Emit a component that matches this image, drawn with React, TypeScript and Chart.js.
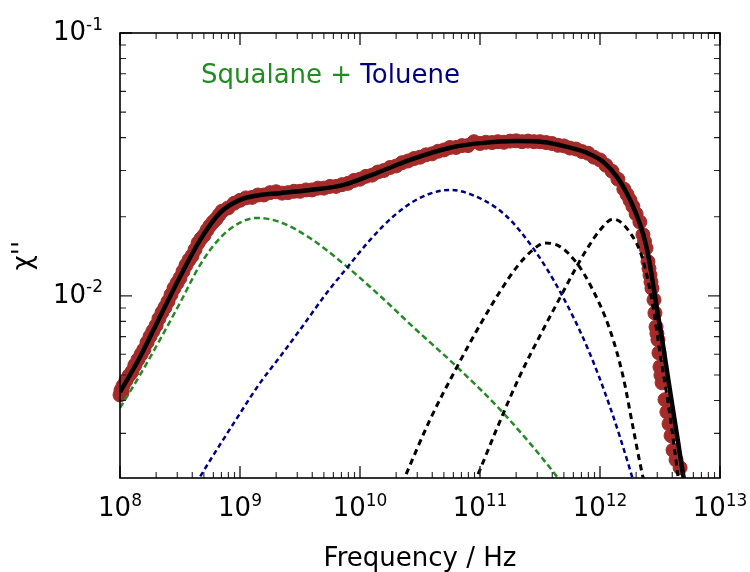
import React, { useEffect, useRef } from 'react';
import { Chart, registerables } from 'chart.js';

Chart.register(...registerables);

// ---------- axis ranges & ticks ----------
const X_MIN = 1e8;
const X_MAX = 1e13;
const Y_MIN = 2.03e-3;
const Y_MAX = 1e-1;
const xTickExponents = [8, 9, 10, 11, 12, 13];
const yTickExponents = [-2, -1];

// ---------- measured spectrum (red circles) ----------
const measuredFreq = [
  1.00e8, 1.02e8, 1.04e8, 1.06e8, 1.12e8, 1.19e8, 1.26e8, 1.33e8, 1.41e8, 1.50e8,
  1.58e8, 1.68e8, 1.78e8, 1.88e8, 2.00e8, 2.11e8, 2.24e8, 2.37e8, 2.51e8, 2.66e8,
  2.82e8, 2.99e8, 3.16e8, 3.35e8, 3.55e8, 3.76e8, 3.98e8, 4.22e8, 4.47e8, 4.73e8,
  5.01e8, 5.31e8, 5.62e8, 5.96e8, 6.31e8, 6.68e8, 7.08e8, 7.94e8, 8.91e8,
  1.00e9, 1.12e9, 1.26e9, 1.41e9, 1.58e9, 1.78e9, 2.00e9, 2.24e9, 2.51e9, 2.82e9,
  3.16e9, 3.55e9, 3.98e9, 4.47e9, 5.01e9, 5.62e9, 6.31e9, 7.08e9, 7.94e9, 8.91e9,
  1.00e10, 1.12e10, 1.26e10, 1.41e10, 1.58e10, 1.78e10, 2.00e10, 2.24e10, 2.51e10, 2.82e10,
  3.16e10, 3.55e10, 3.98e10, 4.47e10, 5.01e10, 5.62e10, 6.31e10, 7.08e10, 7.94e10, 8.91e10,
  1.00e11, 1.12e11, 1.26e11, 1.41e11, 1.58e11, 1.78e11, 2.00e11, 2.24e11, 2.51e11, 2.82e11,
  3.16e11, 3.55e11, 3.98e11, 4.47e11, 5.01e11, 5.62e11, 6.31e11, 7.08e11, 7.94e11, 8.91e11,
  1.00e12, 1.12e12, 1.26e12, 1.41e12, 1.58e12, 1.68e12, 1.78e12, 1.88e12, 2.00e12,
  2.15e12, 2.28e12, 2.35e12, 2.42e12, 2.51e12, 2.56e12, 2.61e12, 2.66e12, 2.71e12, 2.82e12,
  2.87e12, 2.93e12, 2.98e12, 3.04e12, 3.10e12, 3.16e12, 3.22e12, 3.29e12, 3.48e12, 3.61e12,
  3.76e12, 3.91e12, 4.06e12, 4.30e12, 4.65e12,
];
const measuredChi = [
  4.20e-3, 4.38e-3, 4.30e-3, 4.55e-3, 4.76e-3, 4.98e-3, 5.15e-3, 5.45e-3, 5.72e-3, 6.00e-3,
  6.25e-3, 6.65e-3, 7.02e-3, 7.35e-3, 7.72e-3, 8.20e-3, 8.66e-3, 9.05e-3, 9.52e-3, 1.01e-2,
  1.07e-2, 1.12e-2, 1.17e-2, 1.24e-2, 1.31e-2, 1.37e-2, 1.42e-2, 1.50e-2, 1.59e-2, 1.65e-2,
  1.70e-2, 1.78e-2, 1.85e-2, 1.91e-2, 1.96e-2, 2.03e-2, 2.10e-2, 2.16e-2, 2.25e-2,
  2.31e-2, 2.36e-2, 2.37e-2, 2.42e-2, 2.42e-2, 2.47e-2, 2.49e-2, 2.46e-2, 2.47e-2, 2.50e-2,
  2.50e-2, 2.53e-2, 2.53e-2, 2.57e-2, 2.57e-2, 2.61e-2, 2.61e-2, 2.65e-2, 2.68e-2, 2.75e-2,
  2.78e-2, 2.85e-2, 2.88e-2, 2.96e-2, 3.00e-2, 3.08e-2, 3.12e-2, 3.21e-2, 3.26e-2, 3.33e-2,
  3.37e-2, 3.44e-2, 3.47e-2, 3.55e-2, 3.59e-2, 3.67e-2, 3.67e-2, 3.73e-2, 3.73e-2, 3.86e-2,
  3.80e-2, 3.84e-2, 3.83e-2, 3.86e-2, 3.84e-2, 3.88e-2, 3.89e-2, 3.86e-2, 3.88e-2, 3.86e-2,
  3.86e-2, 3.83e-2, 3.80e-2, 3.74e-2, 3.72e-2, 3.65e-2, 3.62e-2, 3.54e-2, 3.49e-2, 3.37e-2,
  3.29e-2, 3.14e-2, 2.98e-2, 2.78e-2, 2.55e-2, 2.43e-2, 2.31e-2, 2.19e-2, 2.05e-2,
  1.91e-2, 1.71e-2, 1.61e-2, 1.52e-2, 1.35e-2, 1.27e-2, 1.20e-2, 1.13e-2, 1.07e-2, 9.66e-3,
  8.61e-3, 7.62e-3, 7.20e-3, 6.81e-3, 6.07e-3, 5.37e-3, 5.00e-3, 4.67e-3, 4.03e-3, 3.62e-3,
  3.26e-3, 2.94e-3, 2.59e-3, 2.38e-3, 2.22e-3,
];

// ---------- total fit (black solid) ----------
const fitFreq = [
  1.00e8, 1.47e8, 2.15e8, 3.16e8, 4.64e8, 6.81e8, 1.00e9, 1.47e9, 2.15e9, 3.83e9,
  7.21e9, 1.39e10, 2.61e10, 5.62e10, 1.06e11, 2.03e11, 3.35e11, 5.31e11, 7.80e11, 1.06e12,
  1.39e12, 1.78e12, 2.15e12, 2.42e12, 2.61e12, 2.82e12, 3.04e12, 3.35e12, 3.69e12, 4.06e12,
  4.47e12, 4.92e12, 5.10e12,
];
const fitChi = [
  4.31e-3, 5.86e-3, 8.32e-3, 1.18e-2, 1.63e-2, 2.07e-2, 2.32e-2, 2.42e-2, 2.46e-2, 2.53e-2,
  2.64e-2, 2.94e-2, 3.29e-2, 3.66e-2, 3.82e-2, 3.88e-2, 3.85e-2, 3.69e-2, 3.50e-2, 3.24e-2,
  2.83e-2, 2.32e-2, 1.88e-2, 1.56e-2, 1.31e-2, 1.05e-2, 8.47e-3, 6.52e-3, 4.88e-3, 3.69e-3,
  2.79e-3, 2.10e-3, 1.93e-3,
];

// ---------- squalane component (green dashed) ----------
const squalaneFreq = [
  1.00e8, 1.47e8, 2.15e8, 3.16e8, 4.64e8, 6.81e8, 1.00e9, 1.39e9, 2.15e9, 3.83e9,
  7.21e9, 1.47e10, 2.77e10, 6.43e10, 1.56e11, 4.39e11, 4.82e11,
];
const squalaneChi = [
  3.75e-3, 5.01e-3, 6.81e-3, 9.40e-3, 1.31e-2, 1.66e-2, 1.90e-2, 1.98e-2, 1.91e-2, 1.66e-2,
  1.33e-2, 1.00e-2, 7.62e-3, 5.37e-3, 3.59e-3, 2.05e-3, 1.93e-3,
];

// ---------- toluene component (navy dashed) ----------
const tolueneFreq = [
  4.30e8, 4.64e8, 9.44e8, 1.47e9, 2.15e9, 3.16e9, 5.31e9, 7.80e9, 1.21e10, 1.88e10,
  3.16e10, 5.62e10, 1.06e11, 1.68e11, 2.77e11, 4.64e11, 7.80e11, 1.21e12, 1.78e12, 1.92e12,
];
const tolueneChi = [
  1.93e-3, 2.05e-3, 3.43e-3, 4.67e-3, 5.86e-3, 7.43e-3, 1.03e-2, 1.28e-2, 1.63e-2, 2.00e-2,
  2.36e-2, 2.53e-2, 2.32e-2, 2.00e-2, 1.52e-2, 1.04e-2, 6.40e-3, 3.79e-3, 2.18e-3, 1.93e-3,
];

// ---------- fast process 1 (black dotted) ----------
const fast1Freq = [
  2.24e10, 2.37e10, 3.83e10, 6.43e10, 1.00e11, 1.47e11, 2.03e11, 2.77e11, 3.48e11, 4.64e11,
  6.43e11, 8.75e11, 1.21e12, 1.56e12, 1.88e12, 2.28e12, 2.37e12,
];
const fast1Chi = [
  1.93e-3, 2.05e-3, 3.38e-3, 5.37e-3, 7.76e-3, 1.04e-2, 1.29e-2, 1.50e-2, 1.59e-2, 1.54e-2,
  1.33e-2, 1.05e-2, 7.43e-3, 4.92e-3, 3.18e-3, 2.05e-3, 1.93e-3,
];

// ---------- fast process 2 (black dotted) ----------
const fast2Freq = [
  8.91e10, 9.44e10, 1.39e11, 2.15e11, 3.35e11, 4.73e11, 6.43e11, 7.80e11, 1.00e12, 1.28e12,
  1.78e12, 2.28e12, 2.77e12, 3.16e12, 3.69e12, 4.22e12, 4.47e12, 4.55e12,
];
const fast2Chi = [
  1.93e-3, 2.05e-3, 3.15e-3, 4.97e-3, 7.43e-3, 1.00e-2, 1.30e-2, 1.51e-2, 1.78e-2, 1.96e-2,
  1.74e-2, 1.37e-2, 9.08e-3, 6.07e-3, 3.92e-3, 2.53e-3, 2.05e-3, 1.93e-3,
];

const FONT = '"DejaVu Sans", "Liberation Sans", sans-serif';

function toPoints(xs: number[], ys: number[]) {
  return xs.map((x, i) => ({ x, y: ys[i] }));
}

function powerLabel(ctx: CanvasRenderingContext2D, exp: string, x: number, baseline: number, align: 'center' | 'right') {
  const mainFont = `26px ${FONT}`;
  const supFont = `17px ${FONT}`;
  ctx.font = mainFont;
  const wMain = ctx.measureText('10').width;
  ctx.font = supFont;
  const wSup = ctx.measureText(exp).width;
  const total = wMain + wSup;
  const left = align === 'center' ? x - total / 2 : x - total;
  ctx.textAlign = 'left';
  ctx.textBaseline = 'alphabetic';
  ctx.fillStyle = '#000';
  ctx.font = mainFont;
  ctx.fillText('10', left, baseline);
  ctx.font = supFont;
  ctx.fillText(exp, left + wMain, baseline - 10.5);
}

const axesPlugin = {
  id: 'mplAxes',
  afterDatasetsDraw(chart: any) {
    const { ctx, chartArea: ca, scales } = chart;
    const xs = scales.x;
    const ys = scales.y;
    ctx.save();
    ctx.strokeStyle = '#222';
    // x ticks (bottom & top), inward
    for (let d = 8; d <= 13; d++) {
      for (let k = 1; k <= 9; k++) {
        if (d === 13 && k > 1) break;
        const v = k * Math.pow(10, d);
        const px = xs.getPixelForValue(v);
        const len = k === 1 ? 12 : 6;
        ctx.lineWidth = k === 1 ? 1.4 : 1.1;
        ctx.beginPath();
        ctx.moveTo(px, ca.bottom);
        ctx.lineTo(px, ca.bottom - len);
        ctx.moveTo(px, ca.top);
        ctx.lineTo(px, ca.top + len);
        ctx.stroke();
      }
    }
    // y ticks (left & right), inward
    for (let d = -3; d <= -1; d++) {
      for (let k = 1; k <= 9; k++) {
        if (d === -1 && k > 1) break;
        const v = k * Math.pow(10, d);
        if (v < Y_MIN) continue;
        const py = ys.getPixelForValue(v);
        const len = k === 1 ? 12 : 6;
        ctx.lineWidth = k === 1 ? 1.4 : 1.1;
        ctx.beginPath();
        ctx.moveTo(ca.left, py);
        ctx.lineTo(ca.left + len, py);
        ctx.moveTo(ca.right, py);
        ctx.lineTo(ca.right - len, py);
        ctx.stroke();
      }
    }
    // frame
    ctx.strokeStyle = '#000';
    ctx.lineWidth = 1.6;
    ctx.strokeRect(ca.left, ca.top, ca.right - ca.left, ca.bottom - ca.top);

    // tick labels
    xTickExponents.forEach((e) => {
      const px = xs.getPixelForValue(Math.pow(10, e));
      powerLabel(ctx, String(e), px, ca.bottom + 38, 'center');
    });
    yTickExponents.forEach((e) => {
      const py = ys.getPixelForValue(Math.pow(10, e));
      powerLabel(ctx, String(e), ca.left - 17, py + 7, 'right');
    });

    // axis titles
    ctx.fillStyle = '#000';
    ctx.font = `26px ${FONT}`;
    ctx.textAlign = 'center';
    ctx.textBaseline = 'alphabetic';
    ctx.fillText('Frequency / Hz', (ca.left + ca.right) / 2, 566);
    ctx.save();
    ctx.translate(31, (ca.top + ca.bottom) / 2);
    ctx.rotate(-Math.PI / 2);
    ctx.fillText("\u03C7''", 0, 0);
    ctx.restore();

    // annotation
    ctx.textAlign = 'left';
    const part1 = 'Squalane + ';
    ctx.fillStyle = '#228B22';
    ctx.fillText(part1, 201, 83);
    const w1 = ctx.measureText(part1).width;
    ctx.fillStyle = '#000080';
    ctx.fillText('Toluene', 201 + w1, 83);
    ctx.restore();
  },
};

export default function App() {
  const ref = useRef<HTMLCanvasElement | null>(null);
  useEffect(() => {
    document.body.style.margin = '0';
    const canvas = ref.current;
    if (!canvas) return;
    const lineCommon = {
      showLine: true,
      pointRadius: 0,
      cubicInterpolationMode: 'monotone',
      clip: 0,
    };
    const chart = new Chart(canvas, {
      type: 'scatter',
      data: {
        datasets: [
          {
            ...lineCommon,
            label: 'fit',
            data: toPoints(fitFreq, fitChi),
            borderColor: '#000',
            borderWidth: 4.5,
            order: 1,
          },
          {
            ...lineCommon,
            label: 'fast2',
            data: toPoints(fast2Freq, fast2Chi),
            borderColor: '#000',
            borderWidth: 3,
            borderDash: [6, 4.5],
            order: 2,
          },
          {
            ...lineCommon,
            label: 'fast1',
            data: toPoints(fast1Freq, fast1Chi),
            borderColor: '#000',
            borderWidth: 3,
            borderDash: [6, 4.5],
            order: 3,
          },
          {
            ...lineCommon,
            label: 'toluene',
            data: toPoints(tolueneFreq, tolueneChi),
            borderColor: '#000080',
            borderWidth: 2.5,
            borderDash: [5, 3.5],
            order: 4,
          },
          {
            ...lineCommon,
            label: 'squalane',
            data: toPoints(squalaneFreq, squalaneChi),
            borderColor: '#228B22',
            borderWidth: 2.5,
            borderDash: [6, 3.5],
            order: 5,
          },
          {
            label: 'data',
            data: toPoints(measuredFreq, measuredChi),
            showLine: false,
            pointRadius: 7,
            pointBackgroundColor: 'rgb(165,42,42)',
            pointBorderColor: 'rgb(165,42,42)',
            pointBorderWidth: 1,
            clip: 8,
            order: 10,
          },
        ] as any,
      },
      options: {
        animation: false,
        responsive: false,
        maintainAspectRatio: false,
        events: [],
        layout: { padding: { left: 0, right: 30, top: 33, bottom: 0 } },
        plugins: { legend: { display: false }, tooltip: { enabled: false } },
        scales: {
          x: {
            type: 'logarithmic',
            min: X_MIN,
            max: X_MAX,
            grid: { display: false },
            border: { display: false },
            ticks: { display: false },
            afterFit: (s: any) => {
              s.height = 94;
            },
          },
          y: {
            type: 'logarithmic',
            min: Y_MIN,
            max: Y_MAX,
            grid: { display: false },
            border: { display: false },
            ticks: { display: false },
            afterFit: (s: any) => {
              s.width = 120;
            },
          },
        },
      } as any,
      plugins: [axesPlugin],
    });
    return () => chart.destroy();
  }, []);
  return (
    <div style={{ width: 750, height: 572 }}>
      <canvas ref={ref} width={750} height={572} style={{ display: 'block', width: 750, height: 572 }} />
    </div>
  );
}
